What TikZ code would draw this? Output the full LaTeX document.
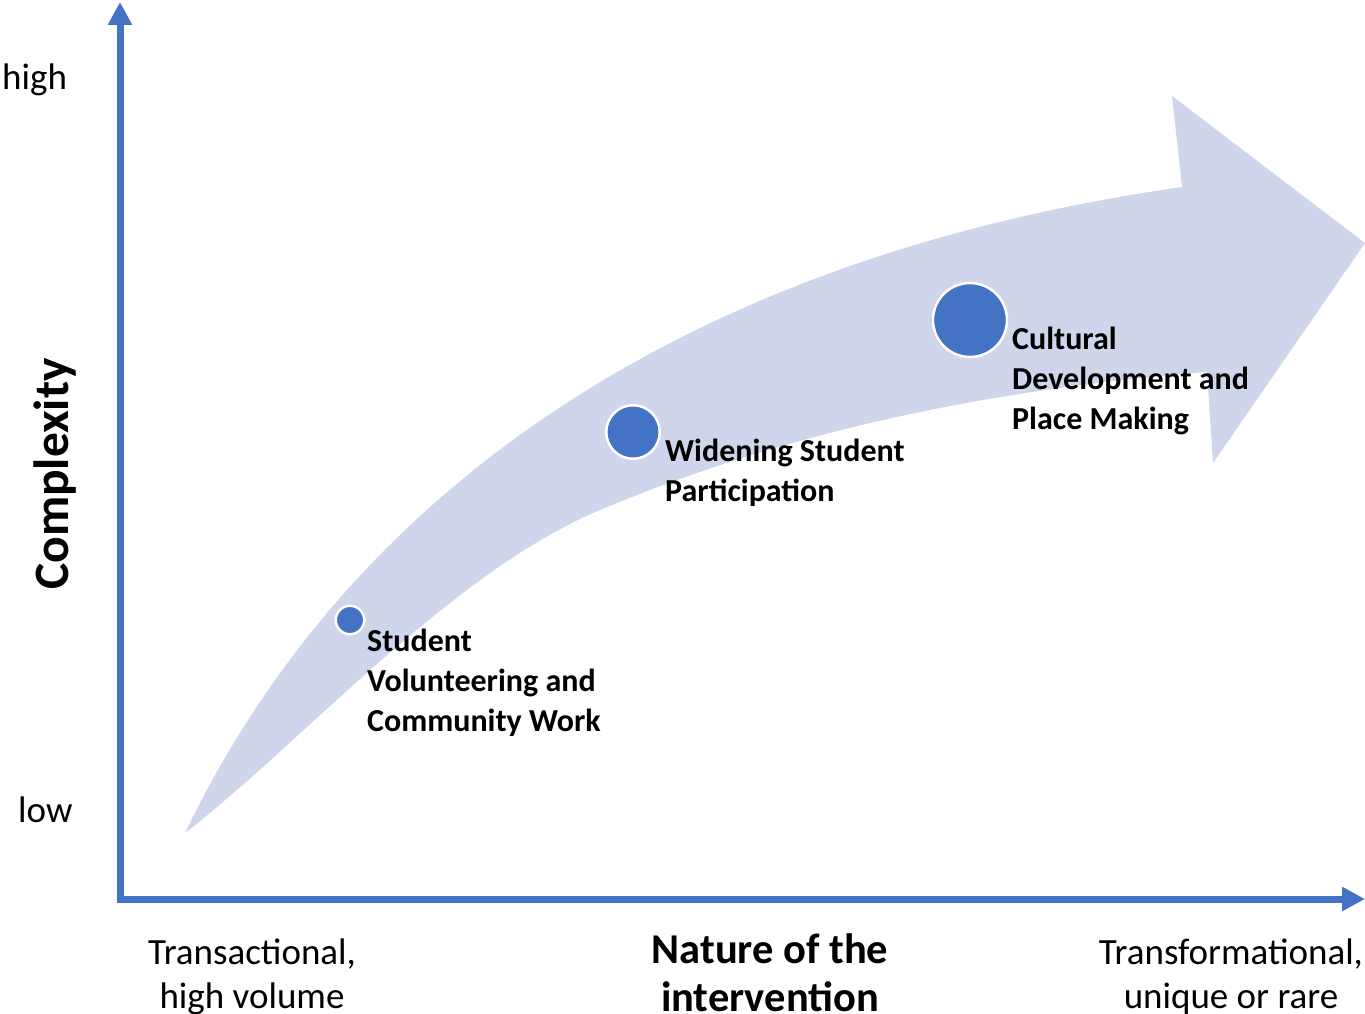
\documentclass[tikz,border=0pt]{standalone}
\usepackage{fontspec}
\setmainfont{Carlito}
\usetikzlibrary{arrows.meta}
\definecolor{axisblue}{RGB}{68,114,196}
\definecolor{bandblue}{RGB}{207,213,234}
\tikzset{
  axis/.style={line width=7pt, draw=axisblue, -{Triangle[width=23pt,length=23pt]}},
  dot/.style={circle, fill=axisblue, draw=white, line width=2.5pt, inner sep=0pt},
  stage/.style={inner sep=0pt, align=left, font=\fontsize{32}{40}\selectfont\bfseries},
  scale text/.style={inner sep=0pt, align=center, font=\fontsize{37}{44}\selectfont},
}
\begin{document}
\begin{tikzpicture}[x=1pt,y=-1pt]
\useasboundingbox (0,0) rectangle (1365,1014);
\def\band{(185,833) .. controls (350,490) and (685,258) .. (1182,187)
  -- (1172,96) -- (1365,243) -- (1213,463) -- (1207,372)
  .. controls (1007,388) and (800,426) .. (600,510)
  .. controls (450,573) and (305,740) .. cycle}
    % curved arrow
    \fill[bandblue] \band;
    % axes
    \coordinate (origin) at (120,899);
    \coordinate (ytop) at (120,2);
    \coordinate (xend) at (1365,899);
    \draw[axis] ([yshift=-3.5pt]origin) -- (ytop);
    \draw[axis] ([xshift=-3.5pt]origin) -- (xend);
    % stages
    \node[dot, minimum size=28.5pt] (volunteering) at (350,620) {};
    \node[dot, minimum size=53.5pt] (widening) at (633,432) {};
    \node[dot, minimum size=74pt] (cultural) at (970,320) {};
    \node[stage, anchor=base west] (volunteeringtext) at (367,731) {Student\\Volunteering and\\Community Work};
    \node[stage, anchor=base west] (wideningtext) at (665,501) {Widening Student\\Participation};
    \node[stage, anchor=base west] (culturaltext) at (1012,429) {Cultural\\Development and\\Place Making};
    % axis texts
    \node[scale text, anchor=base west] (high) at (2,90) {high};
    \node[scale text, anchor=base west] (low) at (18,822) {low};
    \node[inner sep=0pt, rotate=90, anchor=base, font=\fontsize{49.5}{56}\selectfont\bfseries] (complexity) at (68,474) {Complexity};
    \node[scale text, anchor=base] (transactional) at (252,1008) {Transactional,\\high volume};
    \node[inner sep=0pt, align=center, anchor=base, font=\fontsize{42.5}{48}\selectfont\bfseries] (nature) at (770,1011) {Nature of the\\intervention};
    \node[scale text, anchor=base] (transformational) at (1231,1008) {Transformational,\\unique or rare};
\end{tikzpicture}
\end{document}
